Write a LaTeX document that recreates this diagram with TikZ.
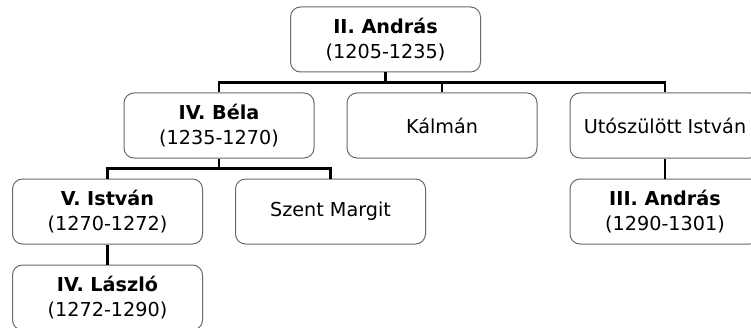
\documentclass[tikz,border=0pt]{standalone}
\usepackage{fontspec}
\setmainfont{DejaVu Sans}
\usepackage{tikz}
\usetikzlibrary{positioning}
\definecolor{boxline}{RGB}{105,105,105}

\begin{document}
\begin{tikzpicture}[
  x=1pt, y=1pt,
  font=\fontsize{19.2}{25.5}\selectfont,
  node distance=20pt and 32pt,
  person/.style={draw=boxline, line width=1pt, rounded corners=10pt, align=center,
                 minimum width=190pt, minimum height=65pt, inner sep=2pt},
  link/.style={line width=2.4pt, draw=black},
  ]
  \useasboundingbox (0,0) rectangle (751,327);
  \node[person] (bela4) at (219,201.5) {\textbf{IV. Béla}\\(1235-1270)};
  \node[person, right=of bela4] (kalman) {Kálmán};
  \node[person, right=of kalman] (utoistvan) {Utószülött István};
  \node[person, above=of kalman, xshift=-56.5pt] (andras2) {\textbf{II. András}\\(1205-1235)};
  \node[person, below=of bela4, xshift=-111.5pt] (istvan5) {\textbf{V. István}\\(1270-1272)};
  \node[person, right=of istvan5] (margit) {Szent Margit};
  \node[person, below=of utoistvan] (andras3) {\textbf{III. András}\\(1290-1301)};
  \node[person, below=of istvan5] (laszlo4) {\textbf{IV. László}\\(1272-1290)};
  \draw[link] (andras2.south) -- ++(0,-10) -| (bela4.north);
  \draw[link] (andras2.south) -- ++(0,-10) -| (kalman.north);
  \draw[link] (andras2.south) -- ++(0,-10) -| (utoistvan.north);
  \draw[link] (bela4.south) -- ++(0,-10) -| (istvan5.north);
  \draw[link] (bela4.south) -- ++(0,-10) -| (margit.north);
  \draw[link] (utoistvan.south) -- (andras3.north);
  \draw[link] (istvan5.south) -- (laszlo4.north);
\end{tikzpicture}
\end{document}
